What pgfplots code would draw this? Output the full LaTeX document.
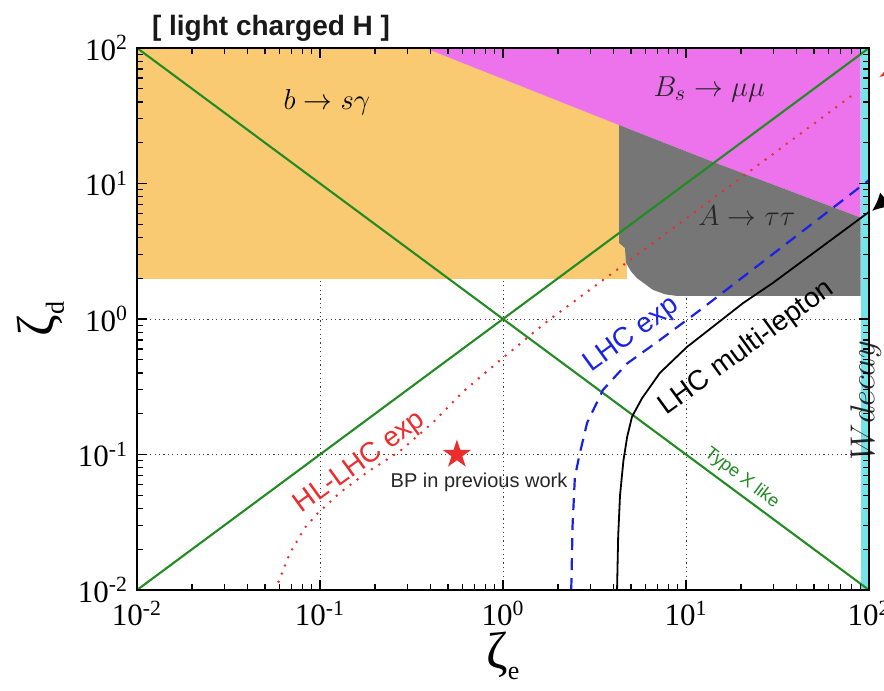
\documentclass[border=0pt]{standalone}
\usepackage{fontspec}
\setmainfont{Liberation Sans}
\newfontfamily\serif{Liberation Serif}
\usepackage{pgfplots}
\pgfplotsset{compat=1.18}
\usetikzlibrary{arrows.meta}

\definecolor{bsg}{RGB}{250,202,115}
\definecolor{bsmm}{RGB}{236,115,236}
\definecolor{att}{RGB}{118,118,118}
\definecolor{wdec}{RGB}{115,228,232}
\definecolor{typex}{RGB}{34,139,34}
\definecolor{hlred}{RGB}{235,45,45}
\definecolor{lhcblue}{RGB}{25,35,225}

% filled five-pointed star
\pgfdeclareplotmark{fstar}{%
  \pgfpathmoveto{\pgfpointpolar{90}{\pgfplotmarksize}}%
  \pgfpathlineto{\pgfpointpolar{126}{0.382*\pgfplotmarksize}}%
  \pgfpathlineto{\pgfpointpolar{162}{\pgfplotmarksize}}%
  \pgfpathlineto{\pgfpointpolar{198}{0.382*\pgfplotmarksize}}%
  \pgfpathlineto{\pgfpointpolar{234}{\pgfplotmarksize}}%
  \pgfpathlineto{\pgfpointpolar{270}{0.382*\pgfplotmarksize}}%
  \pgfpathlineto{\pgfpointpolar{306}{\pgfplotmarksize}}%
  \pgfpathlineto{\pgfpointpolar{342}{0.382*\pgfplotmarksize}}%
  \pgfpathlineto{\pgfpointpolar{18}{\pgfplotmarksize}}%
  \pgfpathlineto{\pgfpointpolar{54}{0.382*\pgfplotmarksize}}%
  \pgfpathclose
  \pgfusepathqfill
}

% grid beneath the excluded regions, ticks and frame above them
\pgfplotsset{
  layers/grid below/.define layer set={
    axis background,axis grid,pre main,main,axis ticks,axis lines,axis tick labels,axis descriptions,axis foreground
  }{/pgfplots/layers/standard},
}

\begin{document}
\begin{tikzpicture}
\begin{axis}[
  set layers=grid below,
  at={(0,0)}, anchor=south west,
  scale only axis, width=366pt, height=271pt,
  xmode=log, ymode=log,
  xmin=0.01, xmax=100, ymin=0.01, ymax=100,
  clip mode=individual,
  xtick={0.01,0.1,1,10,100}, ytick={0.01,0.1,1,10,100},
  xticklabels={10\textsuperscript{-2},10\textsuperscript{-1},10\textsuperscript{0},10\textsuperscript{1},10\textsuperscript{2}},
  yticklabels={10\textsuperscript{-2},10\textsuperscript{-1},10\textsuperscript{0},10\textsuperscript{1},10\textsuperscript{2}},
  minor xtick={0.02,0.03,0.04,0.05,0.06,0.07,0.08,0.09,0.2,0.3,0.4,0.5,0.6,0.7,0.8,0.9,2,3,4,5,6,7,8,9,20,30,40,50,60,70,80,90},
  minor ytick={0.02,0.03,0.04,0.05,0.06,0.07,0.08,0.09,0.2,0.3,0.4,0.5,0.6,0.7,0.8,0.9,2,3,4,5,6,7,8,9,20,30,40,50,60,70,80,90},
  ticklabel style={font=\serif\fontsize{15.5}{15.5}\selectfont},
  xticklabel style={yshift=-2pt},
  yticklabel style={xshift=-1pt},
  tick align=inside, major tick length=5pt, minor tick length=2.8pt,
  tick style={black, line width=0.6pt},
  axis line style={line width=1pt},
  grid=major,
  major grid style={black!75, line width=0.45pt, dash pattern=on 0.6pt off 1.6pt},
  xlabel={\serif\fontsize{26}{26}\selectfont ζ\raisebox{-0.45ex}{\fontsize{13}{13}\selectfont e}},
  ylabel={\serif\fontsize{26}{26}\selectfont ζ\raisebox{-0.45ex}{\fontsize{13}{13}\selectfont d}},
  xlabel style={yshift=4pt},
  ylabel style={yshift=0pt},
]
% excluded regions
\addplot[draw=none, fill=bsg] coordinates {(0.01,1.97) (4.77,1.97) (4.77,100) (0.01,100)} -- cycle;
\addplot[draw=none, fill=bsmm] coordinates {(0.375,100) (4.31,27) (14.1,14.4) (90,5.6) (90,100)} -- cycle;
\addplot[draw=none, fill=att] coordinates {(4.31,27) (4.31,3.64) (4.64,3.34) (4.70,2.6) (5.0,2.25) (5.4,2.0) (6.6,1.64) (7.7,1.52) (8.9,1.48) (90,1.48) (90,5.6) (14.1,14.4)} -- cycle;
\addplot[draw=none, fill=wdec] coordinates {(90,0.01) (100,0.01) (100,100) (90,100)} -- cycle;

% Type X like diagonals
\addplot[typex, line width=1.05pt] coordinates {(0.01,0.01) (100,100)};
\addplot[typex, line width=1.05pt] coordinates {(0.01,100) (100,0.01)};

% HL-LHC expected reach
\addplot[hlred, line width=1.4pt, line cap=round, dash pattern=on 0pt off 4.4pt] coordinates {
 (0.057,0.01) (0.0686,0.0188) (0.083,0.029) (0.0975,0.037) (0.128,0.052) (0.181,0.074)
 (0.274,0.106) (0.414,0.172) (0.604,0.29) (0.97,0.50) (1.76,0.97) (4.58,2.52) (85,47)};

% LHC expected reach
\addplot[lhcblue, line width=1.1pt, dash pattern=on 6pt off 4pt] coordinates {
 (2.36,0.01) (2.40,0.03) (2.47,0.068) (2.62,0.10) (2.88,0.171) (3.52,0.30) (4.77,0.47)
 (7.2,0.70) (11.9,1.16) (100,10.6)};

% LHC multi-lepton bound
\addplot[black, line width=0.9pt] coordinates {
 (4.2,0.01) (4.26,0.025) (4.36,0.05) (4.55,0.09) (4.77,0.135) (5.07,0.19) (5.75,0.26)
 (7.2,0.40) (10.1,0.62) (20.5,1.31) (29.9,1.85) (100,6.17)};

% benchmark point
\addplot[only marks, mark=fstar, mark size=7.5pt, hlred] coordinates {(0.56,0.1)};

% region and curve labels
\node[font=\fontsize{15}{15}\selectfont] at (axis cs:0.109,39.9) {$b\to s\gamma$};
\node[font=\fontsize{15}{15}\selectfont, text=black!85] at (axis cs:13.4,49.8) {$B_s\to\mu\mu$};
\node[font=\fontsize{15}{15}\selectfont, text=black!85] at (axis cs:21.5,5.75) {$A\to\tau\tau$};
\node[rotate=90, font=\fontsize{16}{16}\selectfont, text=black!85] at (axis cs:96,0.25) {$W decay$};
\node[rotate=36, text=hlred, font=\fontsize{14}{14}\selectfont] at (axis cs:0.166,0.0865) {HL-LHC exp};
\node[rotate=36, text=lhcblue, font=\fontsize{14}{14}\selectfont] at (axis cs:5.07,0.76) {LHC exp};
\node[rotate=36, text=black, font=\fontsize{14}{14}\selectfont] at (axis cs:21.5,0.61) {LHC multi-lepton};
\node[rotate=-37, text=typex, font=\fontsize{9}{9}\selectfont] at (axis cs:20.2,0.067) {Type X like};
\node[font=\fontsize{10}{10}\selectfont, text=black!85] at (axis cs:0.74,0.0627) {BP in previous work};
\node[anchor=base west, font=\bfseries\fontsize{14}{14}\selectfont, text=black!90, xshift=4pt, yshift=6pt] at (rel axis cs:0,1) {[ light charged H ]};
\end{axis}
% pointers entering from the right margin
\draw[black, line width=1pt, -{Latex[length=9pt,width=9pt]}] (392pt,210pt) -- (367.5pt,189.5pt);
\draw[hlred, line width=1pt, -{Latex[length=9pt,width=8pt]}] (395pt,269pt) -- (371pt,256.5pt);
\pgfresetboundingbox
\path (-68.5pt,-50.5pt) rectangle (373.5pt,295pt);
\end{tikzpicture}
\end{document}
